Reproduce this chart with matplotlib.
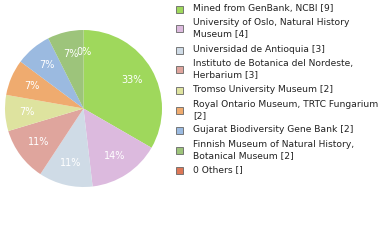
import matplotlib
matplotlib.use("Agg")
import matplotlib.pyplot as plt
import numpy as np

labels = [
    "Mined from GenBank, NCBI [9]",
    "University of Oslo, Natural History\nMuseum [4]",
    "Universidad de Antioquia [3]",
    "Instituto de Botanica del Nordeste,\nHerbarium [3]",
    "Tromso University Museum [2]",
    "Royal Ontario Museum, TRTC Fungarium\n[2]",
    "Gujarat Biodiversity Gene Bank [2]",
    "Finnish Museum of Natural History,\nBotanical Museum [2]",
    "0 Others []",
]
counts = [9, 4, 3, 3, 2, 2, 2, 2, 0]
colors = ["#9fd85c", "#dcbade", "#cfdbe6", "#dfa59d", "#dee39f",
          "#efab6f", "#9bbae0", "#9dc47b", "#dd7756"]

fig = plt.figure(figsize=(3.8, 2.4), dpi=100)
ax = fig.add_axes([5 / 380, 1 - 187 / 240, 157 / 380, 157 / 240])

total = sum(counts)
wedges, texts = ax.pie(counts, colors=colors, startangle=90, counterclock=False,
                       wedgeprops=dict(linewidth=0))
ax.set_xlim(-1, 1)
ax.set_ylim(-1, 1)
ax.set_aspect("equal")
for w, c in zip(wedges, counts):
    ang = np.deg2rad((w.theta1 + w.theta2) / 2)
    pct = int(100 * c / total)
    r = 0.72
    ax.text(r * np.cos(ang), r * np.sin(ang), "%d%%" % pct, color="white",
            ha="center", va="center", fontsize=7)

# legend drawn by hand
ys = [9, 28, 50, 69, 90, 110, 130, 150, 170]
for lab, col, y in zip(labels, colors, ys):
    fig.patches.append(plt.Rectangle((176 / 380, 1 - (y + 4) / 240), 7 / 380, 7 / 240,
                                     transform=fig.transFigure, facecolor=col,
                                     edgecolor="#666666", linewidth=0.6))
    fig.text(193 / 380, 1 - y / 240, lab, fontsize=6.6, va="center", ha="left",
             color="#222222", linespacing=1.3)

fig.savefig("out.png", dpi=100)
